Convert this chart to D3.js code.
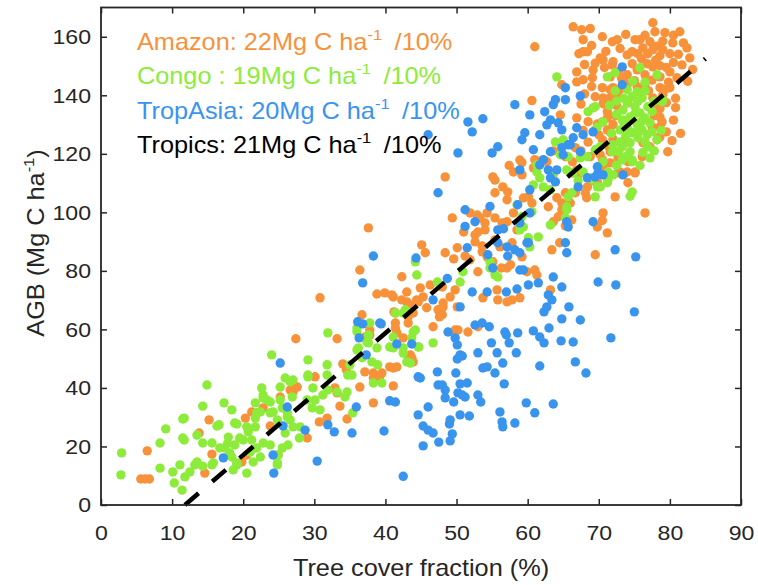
<!DOCTYPE html>
<html>
<head>
<meta charset="utf-8">
<script src="https://cdn.jsdelivr.net/npm/d3@7"></script>
<style>
  body { margin: 0; background: #fff; }
  text { font-family: "Liberation Sans", Arial, sans-serif; }
</style>
</head>
<body>
<div id="scatter"></div>
<script>
// Points: [tree cover %, AGB Mg C/ha]
var amazonPts = [
  [5.6,8.9],[6.2,8.9],[6.8,8.9],[6.5,18.5],[14.6,10.9],[13.8,24.6],[15.2,29.1],[15.6,17.4],[19.8,14.7],[20.5,17.1],
  [20.3,29.7],[21.2,31.8],[22.8,33.2],[23.8,27.0],[24.9,17.1],[25.2,36.9],[26.6,39.3],[27.0,41.0],[27.6,40.3],[27.0,38.6],
  [29.0,22.9],[30.1,43.8],[30.7,28.4],[31.8,29.7],[30.8,70.8],[27.4,56.8],[33.2,56.8],[32.9,40.0],[33.2,38.3],[33.6,33.8],
  [34.6,29.4],[34.0,48.2],[34.5,46.2],[36.7,65.0],[37.8,58.1],[37.8,59.8],[37.1,57.4],[37.1,45.5],[38.3,45.1],[39.5,45.1],
  [38.3,43.4],[36.4,40.3],[38.3,34.9],[39.2,43.8],[41.1,40.7],[41.1,46.8],[41.6,47.2],[40.6,47.2],[41.4,65.6],[41.4,62.2],
  [41.4,60.5],[41.6,58.8],[42.5,57.1],[43.2,62.2],[43.2,64.3],[41.2,66.0],[43.5,68.4],[43.9,65.6],[43.7,50.3],[43.2,49.6],
  [43.5,51.3],[43.9,48.9],[44.6,69.4],[45.8,67.4],[46.7,60.9],[47.4,66.7],[37.6,94.7],[36.4,80.3],[38.8,72.1],[39.9,72.5],
  [41.1,71.1],[40.9,71.8],[42.3,78.0],[43.0,72.8],[43.0,69.4],[44.4,70.1],[42.3,70.1],[44.9,74.2],[45.3,71.1],[46.3,75.2],
  [48.0,74.5],[48.1,69.0],[48.0,65.0],[47.6,64.3],[48.1,67.7],[50.1,67.7],[49.1,71.1],[49.8,73.5],[49.8,59.8],[50.2,59.8],
  [51.6,59.1],[53.0,60.9],[45.1,88.9],[45.6,86.2],[48.4,86.2],[49.6,84.1],[51.2,85.1],[50.1,87.9],[51.9,83.8],[53.0,79.7],
  [55.1,83.1],[57.1,81.0],[56.3,81.0],[57.6,82.1],[59.2,84.8],[59.9,79.7],[61.0,80.3],[61.3,78.6],[63.4,87.2],[64.5,89.6],
  [55.7,73.5],[53.7,70.8],[55.8,70.1],[57.1,69.4],[57.8,70.1],[58.9,70.8],[63.2,73.5],[49.4,98.1],[51.9,99.8],[52.9,99.1],
  [53.3,98.1],[54.3,99.8],[55.4,98.1],[54.0,96.4],[54.0,94.0],[53.0,93.3],[51.0,93.3],[52.6,92.3],[52.6,89.9],[53.6,88.5],
  [53.6,86.5],[54.3,84.8],[55.4,90.6],[56.1,88.2],[57.8,89.6],[58.5,94.0],[58.0,99.8],[57.1,96.8],[56.4,96.4],[48.4,112.1],
  [55.1,112.1],[55.4,106.7],[56.5,108.7],[57.2,107.0],[57.1,104.3],[59.4,104.9],[58.9,117.9],[58.0,113.8],[59.2,112.8],[60.8,115.2],
  [60.1,105.3],[60.6,103.2],[62.9,101.9],[64.3,98.5],[63.6,96.8],[64.8,100.9],[64.8,103.2],[66.0,103.2],[66.2,97.4],[65.3,95.4],
  [66.7,106.7],[65.3,106.7],[64.1,105.0],[68.3,105.0],[68.1,106.7],[68.4,108.7],[69.2,110.8],[72.3,105.3],[74.1,110.1],[75.1,113.8],
  [76.5,99.8],[70.6,99.8],[70.5,97.2],[69.8,95.0],[71.2,93.0],[69.5,85.5],[73.0,113.8],[74.0,113.8],[60.6,138.2],[61.0,156.6],
  [63.6,121.0],[62.7,117.3],[61.0,118.0],[59.2,117.0],[57.4,116.0],[55.4,111.0],[66.3,117.3],[66.3,113.5],[67.1,112.8],[66.9,114.5],
  [65.3,119.0],[66.7,122.1],[68.8,119.0],[70.5,118.0],[69.7,121.0],[71.6,120.7],[71.4,122.4],[70.2,119.7],[71.6,116.9],[72.7,118.6],
  [74.1,117.3],[75.1,113.5],[72.7,113.5],[69.8,110.4],[70.6,115.6],[76.1,119.0],[79.7,120.7],[77.2,122.4],[76.2,123.8],[73.7,123.8],
  [70.5,124.8],[78.2,124.8],[78.6,125.8],[71.6,127.5],[71.2,128.2],[69.5,128.2],[69.8,130.2],[70.5,130.9],[71.2,132.3],[66.9,132.3],
  [64.6,133.3],[71.2,134.4],[72.3,133.0],[70.6,137.1],[74.1,137.4],[78.2,136.1],[78.6,135.4],[78.6,132.6],[78.9,130.9],[78.6,129.2],
  [77.5,129.2],[70.6,139.1],[71.6,139.1],[72.7,139.5],[77.6,139.1],[79.0,140.1],[70.5,142.6],[71.6,141.9],[72.0,142.6],[74.0,143.6],
  [75.4,142.9],[76.5,143.6],[78.6,142.6],[79.3,141.9],[80.0,142.6],[64.8,143.6],[66.9,144.6],[67.8,145.3],[69.1,146.0],[71.6,146.3],
  [66.9,148.0],[69.2,148.7],[74.0,147.0],[75.4,148.7],[76.5,147.0],[77.6,149.7],[78.6,146.3],[80.0,148.0],[81.7,150.4],[80.5,151.2],
  [78.6,150.1],[76.8,150.8],[74.7,150.8],[71.9,150.4],[72.0,151.5],[70.6,152.1],[70.2,152.8],[74.0,153.8],[75.5,154.2],[74.7,154.9],
  [76.2,156.2],[76.9,154.2],[77.6,155.6],[78.6,153.5],[79.0,155.6],[80.0,154.2],[67.8,154.9],[68.4,154.9],[67.2,154.2],[67.8,159.0],
  [67.6,162.4],[66.4,163.4],[71.9,158.3],[72.6,159.0],[75.1,159.0],[75.8,159.0],[77.2,158.3],[77.6,164.8],[77.9,161.7],[79.3,161.4],
  [80.4,157.9],[81.4,161.7],[81.9,157.9],[82.4,156.2],
  [68.0,150.5],[69.5,151.0],[70.8,149.5],[72.8,148.2],[73.5,145.5],[75.0,145.0],[77.5,145.2],[79.8,144.5],[81.0,146.0],[80.8,139.0],
  [79.5,137.5],[77.0,141.5],[73.0,142.0],[69.0,143.0],[68.0,140.5],[69.5,139.5],[67.5,137.0],[68.5,131.0],[67.8,128.0],[72.5,136.5],
  [73.2,145.8],[76.0,152.5],[78.0,152.0],[79.5,149.5],[81.2,154.0],[73.0,156.0],[71.0,155.0],[69.0,157.0],[76.5,160.5],[79.0,158.5],
  [80.5,160.5],[78.2,156.8],[73.8,160.8],[70.5,160.0],[68.8,162.8],[82.8,152.8],[83.2,148.8],[82.5,144.8],[80.8,135.8],[80.5,131.5],
  [79.5,127.5],[80.3,124.5],[81.5,127.0],[77.8,133.0],[72.0,125.0],[70.0,126.5],[68.5,124.0],[67.5,121.0],[72.0,130.0]
];

var congoPts = [
  [2.9,17.8],[2.8,10.3],[8.3,12.6],[10.1,11.3],[10.3,7.5],[11.4,5.1],[11.8,9.6],[9.1,26.0],[8.3,21.2],[11.7,29.7],
  [11.7,22.2],[14.3,33.8],[14.9,41.0],[13.5,23.9],[14.3,21.2],[15.6,21.2],[16.7,19.5],[13.2,13.7],[14.3,13.3],[15.6,13.7],
  [12.5,11.3],[16.6,27.4],[17.3,34.9],[18.4,32.5],[19.1,27.7],[17.8,21.0],[18.1,17.8],[19.1,13.7],[20.0,22.2],[20.7,25.0],
  [21.7,26.7],[21.0,18.1],[20.5,10.9],[21.9,31.5],[22.6,40.0],[22.8,37.6],[23.3,35.9],[21.7,34.9],[22.8,21.2],[22.4,16.4],
  [23.8,20.5],[24.8,13.7],[24.0,51.3],[25.2,40.3],[25.2,35.9],[26.2,31.5],[26.6,42.1],[27.0,42.7],[26.6,29.1],[27.0,26.7],
  [27.9,22.9],[28.0,26.7],[29.0,35.9],[29.1,44.4],[29.1,49.6],[29.8,40.0],[30.1,35.9],[29.7,33.2],[30.8,32.5],[31.8,44.4],
  [31.8,47.9],[31.9,58.8],[31.2,37.6],[33.2,38.6],[34.3,36.9],[34.6,38.6],[35.0,47.9],[35.3,44.4],[35.4,31.5],[36.0,60.5],
  [36.0,53.0],[36.7,50.3],[37.6,55.4],[37.8,62.2],[38.1,48.9],[38.8,53.7],[39.5,41.7],[38.3,41.7],[41.1,53.7],[42.5,53.7],
  [43.0,48.9],[43.9,59.1],[43.0,66.0],[44.6,54.0],[46.7,55.4],[43.5,48.5],[11.1,13.7],[11.5,29.4],[11.5,22.9],[13.5,14.7],
  [16.3,27.0],[17.9,23.2],[18.8,20.5],[19.5,22.9],[18.6,12.0],[21.7,29.7],[22.4,31.8],[21.9,19.5],[23.8,35.2],[26.3,20.5],
  [15.8,14.4],[17.4,19.5],[18.4,16.4],[19.1,14.4],[20.5,26.7],[21.2,22.2],[21.4,14.7],[23.8,31.5],[24.2,31.8],[24.8,29.1],
  [25.5,33.2],[26.2,30.1],[25.9,24.6],[25.5,19.5],[24.9,17.1],[24.8,14.4],[25.9,43.4],[26.9,36.9],[22.8,36.6],[18.8,28.0],
  [44.2,83.1],[44.4,78.6],[47.3,76.2],[36.0,59.2],[37.6,58.1],[37.4,55.7],[36.2,53.7],[36.8,50.6],[38.9,47.9],[42.8,66.7],
  [44.2,59.8],[43.7,57.1],[44.7,54.0],[42.5,51.9],[40.6,54.0],[41.1,57.4],[29.1,43.8],[34.7,44.4],[31.9,39.3],[42.5,65.6],
  [41.4,65.6],[69.5,136.1],[68.5,134.4],[70.6,130.9],[69.8,129.2],[63.9,124.1],[65.0,124.8],[64.6,119.7],[65.7,119.0],[67.4,118.6],
  [70.6,117.3],[71.9,120.7],[71.3,113.8],[72.0,112.8],[73.3,117.9],[74.7,117.9],[74.7,107.0],[67.8,113.8],[69.2,111.1],[69.8,108.7],
  [70.2,108.7],[71.2,110.1],[69.5,105.3],[61.3,116.2],[61.3,113.8],[61.7,111.8],[62.2,108.7],[60.8,109.4],[63.6,112.8],[63.2,107.7],
  [65.5,101.9],[65.7,105.3],[65.3,98.1],[60.6,100.2],[59.2,98.5],[59.4,95.0],[58.9,94.0],[63.2,95.7],[61.5,91.6],[60.3,88.2],
  [60.1,91.3],[54.7,83.1],[54.7,81.0],[55.4,78.6],[50.9,79.7],[50.5,76.2],[58.5,102.6],[66.2,106.7],[55.8,77.9],[65.5,114.5],
  [66.4,113.5],[71.3,111.1],[65.5,100.9],[64.1,146.3],[63.6,113.5],[67.1,110.8],[75.8,149.4],[72.3,147.7],[78.2,147.0],[75.4,141.2],
  [74.7,139.5],[76.1,139.1],[74.0,137.4],[75.1,136.1],[76.9,136.1],[73.4,135.0],[75.8,134.0],[78.9,137.8],[69.2,135.7],[74.4,132.6],
  [76.5,132.3],[73.3,131.6],[77.2,130.6],[75.4,129.9],[74.0,128.9],[76.1,128.2],[74.7,127.2],[76.8,126.5],[75.5,125.5],[73.0,124.1],
  [74.4,123.8],[76.5,124.1],[78.2,124.8],[73.3,122.4],[76.9,122.4],[74.4,120.7],[77.2,118.6],[73.0,128.2],[70.2,122.4],[69.5,121.4],
  [68.4,119.0],[72.8,120.7],[74.7,117.3],[69.1,111.8],[74.4,105.5],[71.2,146.3],[79.0,138.5],[74.0,131.6],[75.0,133.5],[76.0,131.0],
  [73.8,126.0],[75.6,127.5],[77.5,127.5],[72.5,133.5],
  [73.5,139.0],[72.5,138.0],[75.5,138.0],[77.5,134.5],[77.8,138.0],[76.5,141.5],[74.0,142.0],[72.3,141.5],[73.6,129.8],[71.8,127.0],
  [72.0,123.0],[77.8,121.0],[78.8,128.0],[76.2,120.5],[73.8,119.0],[75.8,116.0],[72.5,116.0],[76.5,144.5],[74.8,144.8],[71.5,136.5]
];

var tropAsiaPts = [
  [46.7,70.1],[50.5,67.7],[52.2,72.8],[54.3,72.8],[57.0,72.8],[58.5,73.8],[60.1,75.2],[61.5,75.9],[62.9,71.8],[63.4,70.1],
  [62.7,67.7],[62.3,66.0],[64.8,74.5],[65.8,67.7],[69.9,76.2],[72.4,75.2],[75.0,66.0],[64.8,63.6],[67.4,63.2],[52.6,61.5],
  [53.6,62.2],[54.6,60.9],[48.8,59.1],[49.8,57.1],[50.1,54.7],[56.8,59.1],[57.0,58.1],[58.6,58.8],[60.8,59.5],[61.7,57.4],
  [62.3,55.4],[63.0,60.5],[64.7,56.1],[66.4,55.7],[71.7,57.1],[54.9,55.4],[57.4,55.4],[58.4,52.0],[55.7,52.0],[53.0,52.0],
  [50.1,49.9],[50.8,50.9],[47.3,45.5],[44.9,43.4],[49.9,45.1],[54.3,47.2],[53.7,46.8],[55.4,45.1],[56.5,48.5],[56.7,41.4],
  [61.7,47.5],[66.7,48.9],[68.2,45.1],[47.4,41.0],[48.4,39.3],[48.4,36.6],[50.5,41.4],[51.5,41.7],[50.2,38.3],[51.2,36.9],
  [49.6,35.2],[53.0,37.6],[53.4,35.2],[46.0,33.5],[50.5,30.8],[51.8,30.4],[49.1,29.1],[49.0,27.7],[56.1,31.8],[56.4,28.4],
  [56.5,26.7],[58.2,28.0],[59.8,34.9],[61.0,31.5],[63.6,34.5],[45.3,27.0],[46.0,25.6],[46.7,24.6],[49.4,24.3],[47.5,21.5],
  [49.1,21.9],[45.3,20.2],[42.5,9.8],[25.2,48.5],[26.2,33.5],[25.6,27.0],[28.7,25.6],[24.2,17.1],[24.3,10.9],[17.2,16.1],
  [30.4,15.0],[31.9,27.4],[32.8,25.0],[35.3,24.6],[35.9,33.5],[36.1,62.6],[36.8,61.9],[36.3,57.1],[37.3,51.3],[39.4,61.9],
  [39.8,25.3],[41.6,55.0],[43.7,55.0],[40.6,35.6],[41.4,35.2],[44.6,30.8],[38.3,85.1],[36.8,75.9],[39.2,62.2],[44.3,84.4],
  [48.7,77.4],[50.5,51.3],[48.0,41.0],[50.8,37.6],[44.6,43.8],[50.2,120.3],[55.0,120.3],[47.4,106.7],[51.2,100.9],[51.2,95.2],
  [52.6,96.8],[55.8,94.0],[56.6,94.4],[54.7,102.0],[51.5,87.9],[54.4,85.5],[55.1,81.0],[57.1,88.2],[58.2,87.2],[58.9,86.2],
  [59.4,80.3],[57.2,85.1],[59.9,89.6],[63.6,77.9],[72.3,87.2],[75.2,84.8],[58.2,136.8],[60.3,133.3],[51.6,130.9],[52.2,127.5],
  [53.7,132.0],[55.8,122.4],[63.9,138.5],[63.6,136.8],[65.3,138.5],[67.4,139.8],[62.4,134.4],[63.2,131.6],[64.3,130.6],[62.7,129.9],
  [61.7,126.5],[59.6,127.2],[59.2,124.8],[66.9,128.9],[67.8,126.5],[69.2,127.5],[66.4,125.5],[60.8,121.4],[62.2,118.0],[63.2,120.7],
  [64.8,122.1],[65.7,123.1],[67.4,120.7],[61.7,116.2],[62.9,114.5],[64.1,114.5],[63.2,111.8],[63.9,110.4],[58.9,114.5],[60.3,107.7],
  [68.4,111.8],[69.5,112.1],[67.1,108.7],[70.6,112.8],[73.4,112.8],[58.6,102.6],[60.3,99.8],[58.9,96.4],[65.5,96.8],[65.7,95.0],
  [69.2,96.8],[55.8,89.6],[60.1,89.6],[65.3,89.6],[65.5,86.2],[58.9,80.3],[46.0,126.5],[73.3,149.7],[73.3,143.6],[65.3,142.6],
  [64.8,128.2],[66.0,123.1],[65.0,119.7],[69.8,115.6],[69.9,113.5]
];

// Fitted line for all tropics (dashed)
var fitX = [11.8, 85.0];
var fitY = [0, 152.5];

// Tick values
var xTicks = [0, 10, 20, 30, 40, 50, 60, 70, 80, 90];
var yTicks = [0, 20, 40, 60, 80, 100, 120, 140, 160];

// Legend text
var legendNames = ["Amazon: ", "Congo : ", "TropAsia: ", "Tropics: "];
var legendValues = [22, 19, 20, 21];
var legendColors = ["#F7923A", "#8DEB3A", "#3994EE", "#000000"];

// SVG area and margins
var svgWidth = 758;
var svgHeight = 585;
var margin = { top: 7.5, right: 17, bottom: 80, left: 101 };
var width = svgWidth - margin.left - margin.right;
var height = svgHeight - margin.top - margin.bottom;

// horizontal stretch of the lettering in the figure
var sx = 1.1;
var axisColor = "#262626";

var svg = d3.select("#scatter")
  .append("svg")
  .attr("width", svgWidth)
  .attr("height", svgHeight);

var chartGroup = svg.append("g")
  .attr("transform", `translate(${margin.left}, ${margin.top})`);

// Scales
var xLinearScale = d3.scaleLinear().domain([0, 90]).range([0, width]);
var yLinearScale = d3.scaleLinear().domain([0, 170]).range([height, 0]);

// Points: Amazon, then Congo, then TropAsia on top
var series = [
  { pts: amazonPts, color: legendColors[0] },
  { pts: congoPts, color: legendColors[1] },
  { pts: tropAsiaPts, color: legendColors[2] }
];

series.forEach(function (s) {
  chartGroup.append("g")
    .selectAll("circle")
    .data(s.pts)
    .enter()
    .append("circle")
    .attr("cx", d => xLinearScale(d[0]))
    .attr("cy", d => yLinearScale(d[1]))
    .attr("r", 4.7)
    .attr("fill", s.color);
});

// Dashed fit line
chartGroup.append("path")
  .datum(d3.zip(fitX, fitY))
  .attr("d", d3.line().x(d => xLinearScale(d[0])).y(d => yLinearScale(d[1])))
  .attr("fill", "none")
  .attr("stroke", "#000")
  .attr("stroke-width", 4.5)
  .attr("stroke-dasharray", "18,18");

// Axes (ticks point inward, MATLAB style)
var bottomAxis = d3.axisBottom(xLinearScale).tickValues(xTicks)
  .tickSizeInner(-6).tickSizeOuter(0).tickPadding(20);
var leftAxis = d3.axisLeft(yLinearScale).tickValues(yTicks)
  .tickSizeInner(-6).tickSizeOuter(0).tickPadding(10);
var topAxis = d3.axisTop(xLinearScale).tickValues(xTicks)
  .tickSizeInner(-6).tickSizeOuter(0).tickFormat("");
var rightAxis = d3.axisRight(yLinearScale).tickValues(yTicks)
  .tickSizeInner(-6).tickSizeOuter(0).tickFormat("");

var gx = chartGroup.append("g")
  .attr("transform", `translate(0, ${height})`)
  .call(bottomAxis);
var gy = chartGroup.append("g")
  .call(leftAxis);
var gt = chartGroup.append("g")
  .call(topAxis);
var gr = chartGroup.append("g")
  .attr("transform", `translate(${width}, 0)`)
  .call(rightAxis);

[gx, gy, gt, gr].forEach(function (g) {
  g.style("color", axisColor)
    .attr("font-size", 21)
    .attr("font-family", "Liberation Sans, Arial, sans-serif");
  g.select(".domain").remove();
  g.selectAll(".tick line").attr("stroke-width", 1.5);
});

gx.selectAll("text").attr("transform", `scale(${sx},1)`);
gy.selectAll("text").attr("x", -10 / sx).attr("transform", `scale(${sx},1)`);

// Box around the plot
chartGroup.append("rect")
  .attr("width", width)
  .attr("height", height)
  .attr("fill", "none")
  .attr("stroke", axisColor)
  .attr("stroke-width", 1.8);

// Legend lines as text
legendNames.forEach(function (name, i) {
  var t = chartGroup.append("text")
    .attr("transform", `translate(36, ${42.5 + i * 34.4}) scale(${sx},1)`)
    .attr("fill", legendColors[i])
    .attr("font-size", 23);
  t.append("tspan").text(name + legendValues[i] + "Mg C ha");
  t.append("tspan").attr("font-size", 15).attr("dy", -10).text("-1");
  t.append("tspan").attr("dy", 10).attr("dx", 5).text(" /10%");
});

// Axis labels
var yLab = chartGroup.append("text")
  .attr("transform", `translate(${44 - margin.left}, ${243 - margin.top}) rotate(-90) scale(${sx},1)`)
  .attr("text-anchor", "middle")
  .attr("fill", axisColor)
  .attr("font-size", 23);
yLab.append("tspan").text("AGB (Mg C ha");
yLab.append("tspan").attr("font-size", 15).attr("dy", -10).text("-1");
yLab.append("tspan").attr("dy", 10).text(")");

chartGroup.append("text")
  .attr("transform", `translate(${width / 2}, ${height + 71}) scale(${sx},1)`)
  .attr("text-anchor", "middle")
  .attr("fill", axisColor)
  .attr("font-size", 23)
  .text("Tree cover fraction (%)");
</script>
</body>
</html>
